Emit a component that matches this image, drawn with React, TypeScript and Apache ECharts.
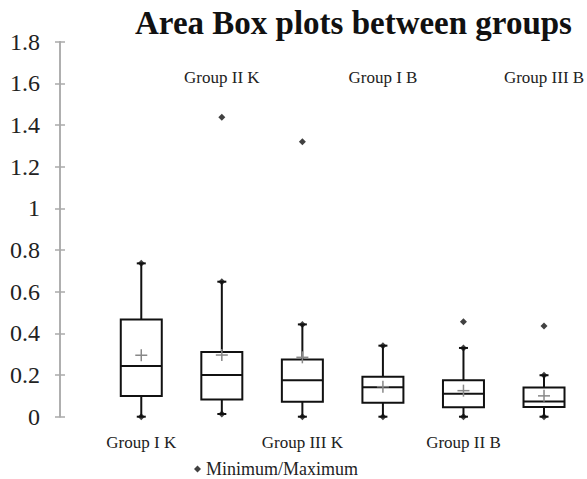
import React, { useEffect, useRef } from "react";
import * as echarts from "echarts";

const categories = ["Group I K", "Group II K", "Group III K", "Group I B", "Group II B", "Group III B"];
const mins = [0, 0.013, 0, 0, 0, 0];
const q1s = [0.099, 0.083, 0.072, 0.067, 0.045, 0.046];
const medians = [0.243, 0.2, 0.175, 0.141, 0.11, 0.073];
const q3s = [0.467, 0.31, 0.275, 0.192, 0.175, 0.14];
const maxs = [0.736, 0.648, 0.443, 0.341, 0.33, 0.199];
const means = [0.295, 0.296, 0.285, 0.144, 0.125, 0.1];
const outlierGroup = [1, 2, 4, 5];
const outlierValue = [1.437, 1.32, 0.456, 0.435];
const yTicks = { min: 0, max: 1.8, interval: 0.2 };

const SERIF = "Liberation Serif";

export default function App() {
  const ref = useRef<HTMLDivElement>(null);
  useEffect(() => {
    if (!ref.current) return;
    const chart = echarts.init(ref.current, undefined, { renderer: "svg" });
    const boxData = categories.map((_, i) => [i, mins[i], q1s[i], medians[i], q3s[i], maxs[i], means[i]]);
    const pointData: number[][] = [];
    categories.forEach((_, i) => {
      pointData.push([i, mins[i]]);
      pointData.push([i, maxs[i]]);
    });
    outlierGroup.forEach((g, k) => pointData.push([g, outlierValue[k]]));

    const yCommon = {
      type: "value",
      min: yTicks.min,
      max: yTicks.max,
      interval: yTicks.interval,
      offset: 41,
      splitLine: { show: false },
      axisLine: { show: true, lineStyle: { color: "#aaa", width: 1.5 } },
    };

    chart.setOption({
      animation: false,
      backgroundColor: "#fff",
      textStyle: { fontFamily: SERIF },
      title: {
        text: "Area Box plots between groups",
        left: 130,
        top: 1,
        textStyle: { fontFamily: SERIF, fontWeight: "bold", fontSize: 33, color: "#111" },
      },
      legend: {
        data: [{ name: "Minimum/Maximum", textStyle: { fontFamily: SERIF, fontSize: 18, color: "#222" } }],
        left: 189,
        top: 455,
        icon: "diamond",
        itemWidth: 7,
        itemHeight: 7,
        itemGap: 4,
        textStyle: { fontFamily: SERIF, fontSize: 18, color: "#222" },
      },
      grid: { left: 101, right: 1, top: 41.7, bottom: 62.3 },
      xAxis: [
        {
          type: "category",
          data: categories,
          position: "bottom",
          axisLine: { show: false },
          axisTick: { show: false },
          axisLabel: {
            interval: 0,
            margin: 17,
            fontFamily: SERIF,
            fontSize: 17,
            color: "#222",
            formatter: (v: string, i: number) => (i % 2 === 0 ? v : ""),
          },
        },
        {
          type: "category",
          data: categories,
          position: "top",
          axisLine: { show: false },
          axisTick: { show: false },
          axisLabel: {
            interval: 0,
            margin: -44,
            fontFamily: SERIF,
            fontSize: 17,
            color: "#222",
            formatter: (v: string, i: number) => (i % 2 === 1 ? v : ""),
          },
        },
      ],
      yAxis: [
        {
          ...yCommon,
          axisTick: { show: true, inside: false, length: 5, lineStyle: { color: "#aaa", width: 1.5 } },
          axisLabel: { margin: 20, fontFamily: SERIF, fontSize: 24, color: "#222" },
        },
        {
          ...yCommon,
          position: "left",
          axisTick: { show: true, inside: true, length: 5, lineStyle: { color: "#aaa", width: 1.5 } },
          axisLabel: { show: false },
        },
      ],
      series: [
        {
          type: "custom",
          name: "box",
          xAxisIndex: 0,
          yAxisIndex: 0,
          data: boxData,
          encode: { x: 0, y: [1, 2, 3, 4, 5, 6] },
          clip: false,
          renderItem: (params: any, api: any) => {
            const i = api.value(0);
            const p = (v: number) => api.coord([i, v]);
            const [x, yMin] = p(api.value(1));
            const yQ1 = p(api.value(2))[1];
            const yMed = p(api.value(3))[1];
            const yQ3 = p(api.value(4))[1];
            const yMax = p(api.value(5))[1];
            const yMean = p(api.value(6))[1];
            const w = 41;
            const cap = 9;
            const st = { stroke: "#111", lineWidth: 2, fill: "none" };
            const mst = { stroke: "#888", lineWidth: 1.5 };
            return {
              type: "group",
              children: [
                { type: "line", shape: { x1: x, y1: yMax, x2: x, y2: yQ3 }, style: st },
                { type: "line", shape: { x1: x, y1: yQ1, x2: x, y2: yMin }, style: st },
                { type: "line", shape: { x1: x - cap / 2, y1: yMax, x2: x + cap / 2, y2: yMax }, style: st },
                { type: "line", shape: { x1: x - cap / 2, y1: yMin, x2: x + cap / 2, y2: yMin }, style: st },
                {
                  type: "rect",
                  shape: { x: x - w / 2, y: yQ3, width: w, height: yQ1 - yQ3 },
                  style: { stroke: "#111", lineWidth: 2, fill: "#fff" },
                },
                { type: "line", shape: { x1: x - w / 2, y1: yMed, x2: x + w / 2, y2: yMed }, style: st },
                { type: "line", shape: { x1: x - 6, y1: yMean, x2: x + 6, y2: yMean }, style: mst },
                { type: "line", shape: { x1: x, y1: yMean - 6, x2: x, y2: yMean + 6 }, style: mst },
              ],
            };
          },
        },
        {
          type: "scatter",
          name: "Minimum/Maximum",
          xAxisIndex: 0,
          yAxisIndex: 0,
          data: pointData,
          symbol: "diamond",
          symbolSize: 7,
          itemStyle: { color: "#111" },
          z: 5,
        },
      ],
    });
    return () => chart.dispose();
  }, []);
  return <div ref={ref} style={{ position: "fixed", left: 0, top: 0, width: 587, height: 479 }} />;
}
